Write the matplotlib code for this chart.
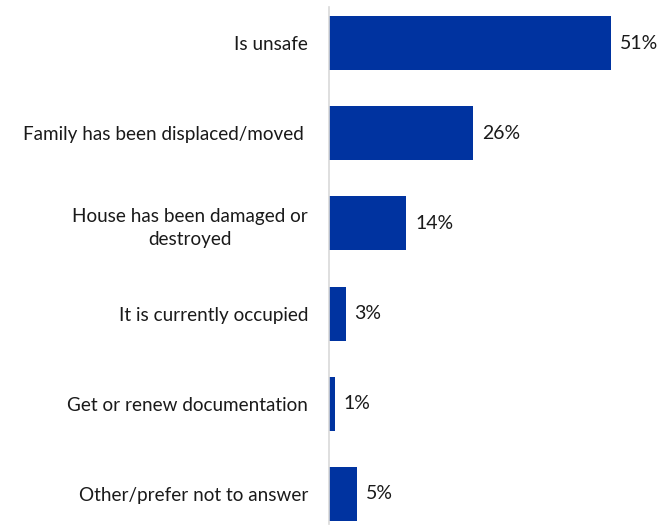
import matplotlib.pyplot as plt
import numpy as np

reasons = [
    "Is unsafe",
    "Family has been displaced/moved ",
    "House has been damaged or\ndestroyed",
    "It is currently occupied",
    "Get or renew documentation",
    "Other/prefer not to answer",
]
shares = [51, 26, 14, 3, 1, 5]

bar_color = "#0033A0"
text_color = "#1a1a1a"

plt.rcParams["font.family"] = ["Lato", "DejaVu Sans"]

fig = plt.figure(figsize=(6.68, 5.29), dpi=100)
ax = fig.add_axes([0.4925, 0.00945, 0.497, 0.9773])

y = np.arange(len(reasons))
ax.barh(y, shares, height=0.6, color=bar_color)

for i, v in enumerate(shares):
    ax.text(v + 1.6, i, f"{v}%", va="center", ha="left", fontsize=14, color=text_color)

ax.set_yticks(y)
ax.set_yticklabels(reasons, fontsize=13.6, color=text_color,
                   multialignment="center", linespacing=1.45)
ax.tick_params(axis="y", length=0, pad=15)
ax.set_ylim(5.333, -0.4)
ax.set_xlim(0, 60)
ax.xaxis.set_visible(False)

for side in ["top", "bottom", "right"]:
    ax.spines[side].set_visible(False)
ax.spines["left"].set_color("#d9d9d9")
ax.spines["left"].set_linewidth(1.2)

fig.savefig("out.png", dpi=100)
